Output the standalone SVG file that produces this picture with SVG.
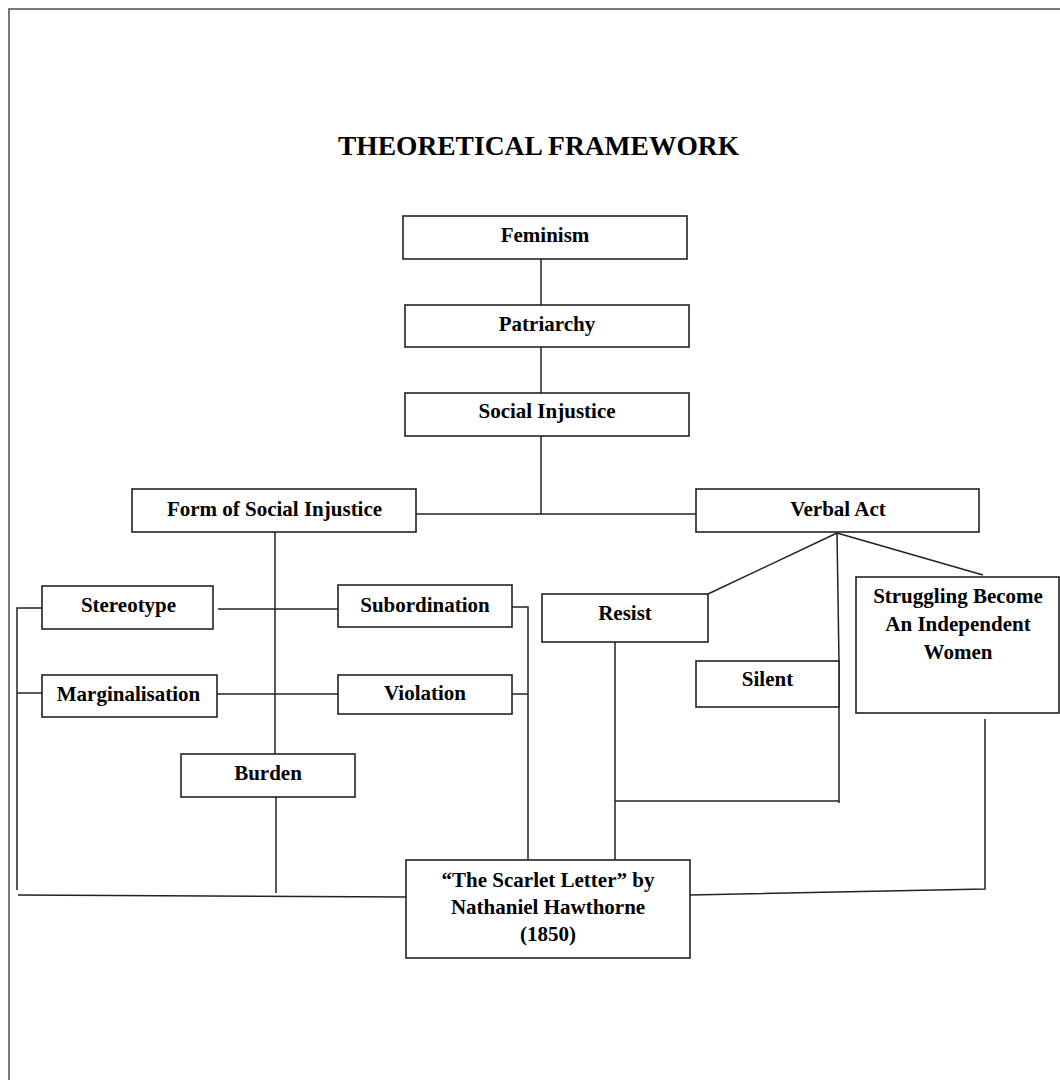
<svg xmlns="http://www.w3.org/2000/svg" width="1060" height="1080" viewBox="0 0 1060 1080">
<style>
.box{fill:#fff;stroke:#222;stroke-width:1.6}
.lbl{font-family:"Liberation Serif","Times New Roman",serif;font-weight:bold;font-size:21px;fill:#000;text-anchor:middle}
.ttl{font-family:"Liberation Serif","Times New Roman",serif;font-weight:bold;font-size:27.5px;fill:#000;text-anchor:middle}
.ln{fill:none;stroke:#222;stroke-width:1.5}
</style>
<rect width="1060" height="1080" fill="#fff"/>
<path d="M9,1080 V9 H1060" fill="none" stroke="#7a7a7a" stroke-width="2"/>
<text class="ttl" x="538.5" y="155">THEORETICAL FRAMEWORK</text>
<g id="connectors">
<path class="ln" d="M541,259 V305"/>
<path class="ln" d="M541,347 V393"/>
<path class="ln" d="M541,436 V514"/>
<path class="ln" d="M416,514 H696"/>
<path class="ln" d="M275,532 V754"/>
<path class="ln" d="M218,609 H338"/>
<path class="ln" d="M213,694 H338"/>
<path class="ln" d="M512,607 H528 V860"/>
<path class="ln" d="M512,694 H528"/>
<path class="ln" d="M42,608 H17 V890"/>
<path class="ln" d="M17,693 H42"/>
<path class="ln" d="M276,797 V893"/>
<path class="ln" d="M18,895 L406,897"/>
<path class="ln" d="M837,533 L708,594"/>
<path class="ln" d="M837,533 L839,662 V803"/>
<path class="ln" d="M837,533 L983,575"/>
<path class="ln" d="M615,642 V860"/>
<path class="ln" d="M615,801 H839"/>
<path class="ln" d="M985,719 V889 L690,895"/>
</g>
<g id="feminism"><rect class="box" x="403" y="216" width="284" height="43"/><text class="lbl" x="545" y="242">Feminism</text></g>
<g id="patriarchy"><rect class="box" x="405" y="305" width="284" height="42"/><text class="lbl" x="547" y="331">Patriarchy</text></g>
<g id="social-injustice"><rect class="box" x="405" y="393" width="284" height="43"/><text class="lbl" x="547" y="418">Social Injustice</text></g>
<g id="form-of-social-injustice"><rect class="box" x="132" y="489" width="284" height="43"/><text class="lbl" x="274.5" y="516">Form of Social Injustice</text></g>
<g id="verbal-act"><rect class="box" x="696" y="489" width="283" height="43"/><text class="lbl" x="838" y="516">Verbal Act</text></g>
<g id="stereotype"><rect class="box" x="42" y="586" width="171" height="43"/><text class="lbl" x="128.5" y="612">Stereotype</text></g>
<g id="subordination"><rect class="box" x="338" y="585" width="174" height="42"/><text class="lbl" x="425" y="612">Subordination</text></g>
<g id="marginalisation"><rect class="box" x="42" y="675" width="175" height="42"/><text class="lbl" x="128.5" y="701">Marginalisation</text></g>
<g id="violation"><rect class="box" x="338" y="675" width="174" height="39"/><text class="lbl" x="425" y="700">Violation</text></g>
<g id="burden"><rect class="box" x="181" y="754" width="174" height="43"/><text class="lbl" x="268" y="780">Burden</text></g>
<g id="resist"><rect class="box" x="542" y="594" width="166" height="48"/><text class="lbl" x="625" y="620">Resist</text></g>
<g id="silent"><rect class="box" x="696" y="661" width="143" height="46"/><text class="lbl" x="767.5" y="686">Silent</text></g>
<g id="struggling"><rect class="box" x="856" y="577" width="203" height="136"/><text class="lbl" x="958" y="603">Struggling Become</text><text class="lbl" x="958" y="631">An Independent</text><text class="lbl" x="958" y="659">Women</text></g>
<g id="scarlet-letter"><rect class="box" x="406" y="860" width="284" height="98"/><text class="lbl" x="548" y="887">“The Scarlet Letter” by</text><text class="lbl" x="548" y="914">Nathaniel Hawthorne</text><text class="lbl" x="548" y="941">(1850)</text></g>
</svg>
